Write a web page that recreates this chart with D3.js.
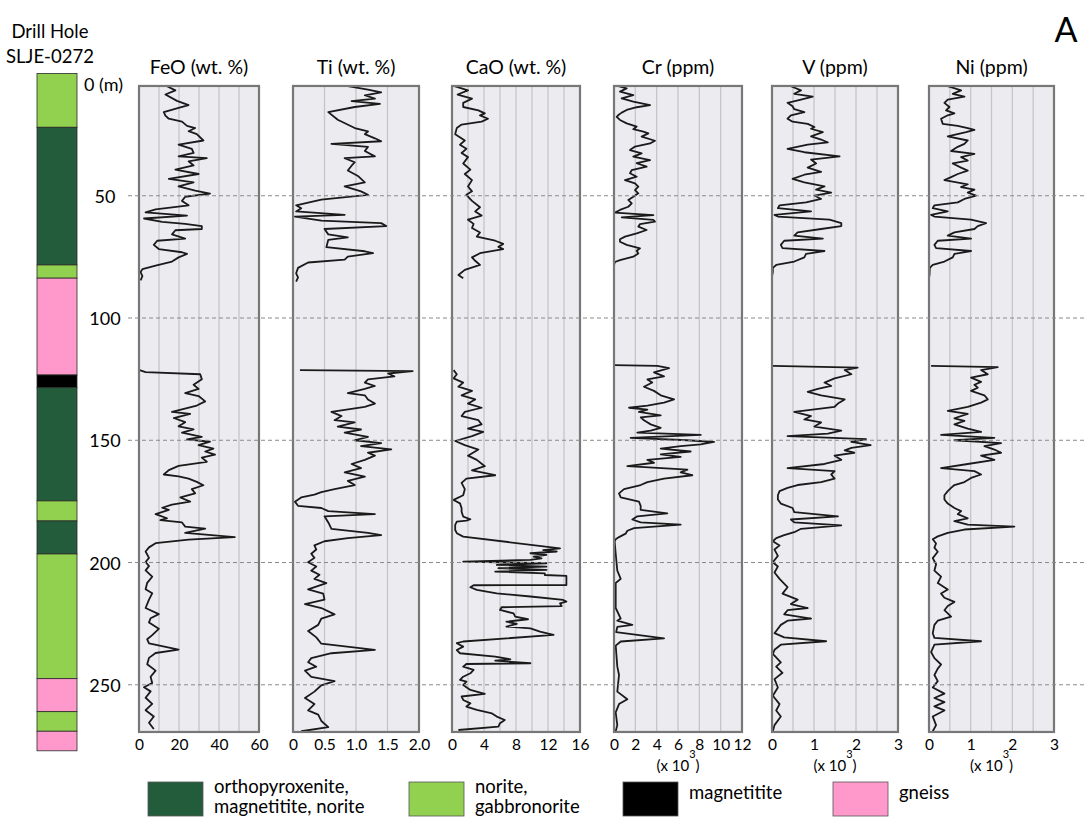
<!DOCTYPE html>
<html>
<head>
<meta charset="utf-8">
<script src="https://cdn.jsdelivr.net/npm/d3@7"></script>
<style>
  body { margin: 0; background: #fff; }
  text { font-family: Lato, "Open Sans", sans-serif; fill: #000; }
</style>
</head>
<body>
<svg id="chart" width="1088" height="823"></svg>
<script>
// ---- drill hole lithology (depth boundaries in m) ----
const strataDepths = [0, 22, 78.3, 83.7, 123.3, 128.5, 174.8, 183, 196.5, 247.5, 261, 269, 277];
const strataRock = ["norite", "opx", "norite", "gneiss", "magnetitite", "opx", "norite", "opx", "norite", "gneiss", "norite", "gneiss"];
const depthLabels = [0, 50, 100, 150, 200, 250];

// ---- FeO (wt. %) ----
const feoUpperDepth = [5.2,6.9,8.6,11.2,12.9,14.1,15.8,17.2,18.5,19.7,21.4,22.3,23.6,24.8,27.4,29.1,30.8,32.5,33.9,34.6,35.9,37.6,39.3,41.1,43.1,44.5,46.2,47.9,49.1,50.4,52.1,53.9,55.6,56.8,58.1,59.3,60.7,61.5,62.4,63.6,64.1,65.8,67.5,68.4,70.1,71.8,73.1,73.8,75.2,76.9,78.6,80.0,81.2,82.9,84.6];
const feoUpperValue = [14.0,18.2,13.2,19.0,24.8,19.8,12.4,13.2,14.9,21.5,24.0,28.1,24.8,28.9,32.2,19.8,26.4,27.3,19.8,33.9,24.8,27.3,18.2,29.8,14.9,27.3,19.8,28.1,35.5,23.1,21.5,24.8,8.3,3.3,24.0,2.5,11.6,23.1,31.4,31.4,18.2,16.5,23.1,9.1,7.4,9.9,21.5,24.0,19.8,16.5,8.3,1.7,0.8,1.7,0.8];
const feoLowerDepth = [121.3,122.1,123.0,125.0,127.3,129.0,130.7,131.9,134.1,135.8,138.4,139.2,140.9,142.6,144.3,145.5,146.9,148.6,149.6,150.6,152.0,153.4,154.6,155.9,157.1,158.8,160.5,162.2,164.0,164.8,165.7,167.0,168.4,170.0,171.7,173.4,175.1,176.3,177.6,178.5,180.2,181.9,182.7,183.6,185.3,186.1,187.9,189.6,190.6,192.1,193.8,195.5,198.1,199.8,201.5,203.2,205.8,208.3,210.9,212.6,215.2,218.6,221.1,222.8,224.5,227.1,229.7,231.4,233.1,235.6,237.0,239.0,241.6,244.2,246.7,249.3,251.0,252.7,255.3,257.8,260.4,263.0,265.5,268.1];
const feoLowerValue = [0.3,3.3,30.6,31.4,27.3,29.8,23.1,29.8,33.1,28.9,16.5,25.6,17.4,23.1,19.8,27.3,21.5,31.4,24.0,35.5,29.8,37.2,33.1,38.0,31.4,33.9,19.8,14.9,12.4,19.8,24.8,28.9,32.2,26.4,28.1,20.7,25.6,16.5,11.6,14.9,8.3,14.0,10.7,21.5,23.1,33.1,23.1,47.9,24.8,8.3,5.0,3.3,5.0,3.3,5.0,3.3,6.6,4.1,3.3,6.6,5.0,3.3,9.9,5.8,5.0,9.9,6.6,4.1,5.0,19.8,8.3,5.0,4.1,8.3,5.8,6.6,2.5,5.8,3.3,6.6,3.3,7.4,5.0,7.4];

// ---- Ti (wt. %) ----
const tiUpperDepth = [5.2,6.6,7.7,8.9,10.3,11.3,12.4,13.7,15.8,18.9,22.3,23.7,24.8,26.5,27.7,28.8,30.0,31.7,33.9,34.6,36.3,37.7,39.7,41.9,44.5,46.2,48.2,49.6,51.6,53.9,55.1,56.4,57.8,58.5,60.2,61.2,62.4,63.6,65.8,67.0,68.0,71.0,72.7,73.5,74.9,76.1,77.3,79.5,81.7,83.4,85.1];
const tiUpperValue = [0.87,1.19,1.40,1.14,1.30,0.93,1.38,0.98,0.56,0.71,0.98,1.19,1.14,1.30,1.40,0.61,1.19,1.14,1.30,0.82,0.98,0.93,0.87,1.03,1.14,0.82,1.08,1.19,0.45,0.05,0.13,0.05,0.82,0.03,0.45,1.40,1.48,0.50,0.56,0.87,0.56,0.53,1.14,1.27,0.87,0.82,0.24,0.08,0.05,0.08,0.05];
const tiLowerDepth = [121.3,121.7,122.7,123.9,125.1,126.4,127.8,129.0,130.7,131.6,133.3,135.0,136.3,138.4,140.1,141.8,142.7,144.4,145.6,146.9,148.6,150.0,151.2,152.4,153.7,155.1,156.3,158.0,159.7,161.4,163.1,164.9,166.6,168.3,170.0,171.2,172.2,173.4,175.1,176.8,177.7,179.0,180.2,181.1,183.6,186.2,187.9,188.8,190.0,191.3,193.0,194.7,196.4,198.1,199.9,201.6,203.3,205.0,206.7,208.4,211.0,212.7,215.2,217.0,218.6,221.2,222.9,225.5,228.0,230.6,233.2,235.7,237.1,239.1,240.8,242.6,244.2,246.8,248.5,250.2,252.8,255.4,257.9,260.5,262.2,264.8,267.3,269.0];
const tiLowerValue = [0.11,1.90,1.51,1.61,1.19,1.14,1.30,1.14,0.87,1.14,1.19,1.30,1.14,0.61,0.77,0.66,0.98,0.71,1.08,0.82,1.19,0.98,1.40,1.08,1.56,1.19,1.30,1.14,0.93,1.08,0.82,1.14,0.87,0.98,0.66,0.45,0.34,0.13,0.03,0.08,0.45,0.56,1.30,0.50,0.56,0.61,1.19,1.40,0.87,0.50,0.34,0.37,0.29,0.34,0.24,0.37,0.29,0.42,0.34,0.53,0.24,0.48,0.50,0.19,0.45,0.66,0.45,0.40,0.24,0.37,0.45,1.30,0.61,0.29,0.24,0.37,0.19,0.29,0.66,0.45,0.34,0.19,0.34,0.24,0.40,0.45,0.56,0.13];

// ---- CaO (wt. %) ----
const caoUpperDepth = [5.2,6.9,8.6,10.3,12.0,13.7,15.1,16.3,17.1,18.5,19.7,20.9,22.3,24.8,27.4,29.1,30.8,32.5,34.2,36.8,39.3,41.1,43.6,46.2,48.2,49.6,52.1,54.7,56.4,58.1,59.8,61.5,63.2,65.0,66.7,68.4,69.7,70.9,71.8,73.5,75.2,76.6,78.3,80.3,82.4,83.7];
const caoUpperValue = [0.3,2.0,0.7,2.5,1.4,1.4,3.3,4.1,3.5,4.5,3.7,1.2,0.6,0.4,1.6,1.0,1.8,1.2,2.0,1.4,2.3,1.6,2.5,2.0,2.5,1.8,2.5,3.5,2.9,3.7,2.0,2.7,2.5,3.5,3.1,5.4,6.4,5.8,6.4,3.5,2.5,2.9,3.5,1.6,0.8,1.4];
const caoLowerDepth = [121.3,123.0,124.7,126.4,128.1,129.8,131.6,133.3,135.0,136.7,138.4,140.1,141.8,143.5,145.2,146.6,148.3,150.3,152.0,153.8,156.3,158.0,160.6,162.3,164.3,165.7,167.4,170.0,172.5,
  174.4,175.8,177.8,179.2,181.2,182.3,182.9,183.3,184.6,186.7,188.0,189.4,194.2,194.9,195.5,196.2,196.9,197.6,198.3,198.9,199.6,200.3,201.0,201.7,202.3,203.0,203.7,204.4,205.1,205.5,209.2,209.3,210.1,211.2,212.6,213.9,215.3,216.0,216.7,217.8,218.3,219.4,220.8,222.1,223.2,224.2,225.1,226.2,226.9,228.3,229.6,232.3,233.0,234.4,235.8,237.1,238.5,239.6,240.1,241.2,241.5,242.6,243.9,245.3,246.7,248.0,248.7,250.1,252.1,253.7,254.8,256.2,257.6,258.9,260.3,261.7,263.0,264.4,265.7,267.1,268.5];
const caoLowerValue = [0.2,0.6,0.2,1.4,0.8,2.5,1.2,2.9,2.0,3.7,1.6,1.2,3.3,3.7,2.0,3.9,2.5,0.4,1.6,3.3,2.0,3.1,4.1,2.5,5.4,1.8,1.2,1.6,1.4,
  0.2,1.0,1.2,1.2,1.4,2.3,1.8,0.6,0.4,0.4,0.6,1.4,13.5,11.4,13.1,9.8,11.8,10.2,11.2,9.8,1.4,11.8,5.6,11.8,5.8,11.8,5.4,11.6,11.6,14.3,14.3,2.7,2.3,3.1,5.6,9.8,13.9,14.3,13.5,13.7,6.2,6.0,7.7,7.9,9.5,6.8,8.1,6.8,9.8,11.0,12.7,1.4,0.6,1.4,0.6,1.0,5.4,7.3,5.4,9.8,1.8,1.4,2.7,2.3,1.4,1.0,1.8,1.4,2.3,4.1,1.2,1.4,2.3,1.8,3.1,5.0,5.6,6.6,6.0,5.8,0.8];

// ---- Cr (ppm, x 10^3) ----
const crUpperDepth = [5.2,6.1,7.4,8.8,10.2,11.5,12.9,13.8,14.9,16.0,17.0,17.7,19.0,20.4,21.7,22.8,23.8,24.5,25.8,27.5,28.6,29.9,31.3,32.7,34.0,35.4,36.7,38.1,39.5,40.8,42.2,43.6,44.9,46.3,47.7,49.0,50.4,51.7,53.1,54.5,55.8,56.9,57.9,58.8,59.9,60.6,61.6,62.6,64.0,65.4,66.7,67.8,68.8,70.1,71.5,72.5,73.6,74.9,76.3,77.1,78.3,84.5];
const crUpperValue = [0.41,1.19,0.56,1.81,0.72,1.81,3.38,2.13,1.19,0.72,0.41,0.25,0.56,1.19,2.13,1.81,2.75,3.22,2.59,3.84,3.38,1.97,1.50,2.59,1.81,3.38,2.13,3.06,1.66,1.50,2.13,1.03,1.97,2.28,1.97,2.28,1.81,1.34,1.66,1.34,0.56,0.09,3.69,0.72,3.69,3.84,2.44,2.28,3.06,2.13,1.03,0.56,0.56,1.19,2.44,2.13,2.28,1.81,0.56,0.09,0.0,0.0];
const crLowerDepth = [119.3,119.6,120.5,122.2,123.9,125.1,126.4,128.1,129.8,131.6,133.3,134.6,135.8,136.7,137.5,138.4,139.8,140.6,141.8,143.5,144.9,146.1,146.9,147.8,149.0,150.0,150.7,151.7,152.4,153.4,154.6,155.8,156.8,158.0,159.2,160.6,162.0,163.1,164.3,165.7,167.1,168.3,170.0,171.7,173.4,175.1,176.8,178.5,179.9,181.1,182.4,183.6,184.5,185.9,187.0,188.2,189.6,190.5,191.3,196.4,203.3,206.7,208.4,218.6,222.9,223.8,225.5,226.3,228.5,231.0,232.3,234.0,242.6,246.0,252.8,255.9,257.9,261.3,266.5,269.0];
const crLowerValue = [0.0,4.06,5.16,3.75,4.69,3.13,3.59,2.81,3.75,4.38,5.63,4.69,3.13,1.41,3.13,2.34,4.38,2.5,2.81,3.44,4.38,3.44,2.19,8.13,1.56,6.88,9.38,8.13,6.25,4.38,7.19,4.38,6.25,3.13,3.75,1.25,6.88,6.25,7.34,4.69,3.13,2.5,0.94,0.47,0.63,2.34,2.5,2.5,5.0,2.19,1.72,2.5,6.25,1.88,1.25,1.09,0.47,0.16,0.06,0.16,0.31,0.63,0.16,0.16,0.63,0.31,1.72,0.31,0.2,4.69,0.63,0.16,0.31,0.47,0.31,1.25,0.47,0.16,0.31,0.16];

// ---- V (ppm, x 10^3) ----
const vUpperDepth = [5.2,6.9,8.3,9.5,10.7,12.0,13.4,14.6,15.8,17.1,18.5,19.7,20.6,21.9,22.6,24.0,25.7,27.0,28.2,29.1,30.8,32.2,33.9,35.2,36.8,38.5,40.2,41.4,43.1,44.5,46.2,47.5,48.7,49.9,51.3,52.7,53.9,55.1,56.4,57.8,58.5,59.8,61.2,62.4,63.6,65.0,66.3,67.5,68.4,70.1,71.4,72.6,73.8,75.2,76.9,78.3,79.5,81.2,82.9];
const vUpperValue = [0.45,0.69,0.53,0.97,0.69,0.37,0.49,0.53,0.77,0.45,0.37,0.49,0.85,1.01,0.93,1.21,0.93,1.17,1.33,0.85,0.37,0.77,1.61,0.93,1.05,0.85,1.17,0.77,0.49,0.77,1.25,1.05,1.41,1.01,1.17,0.81,0.18,0.14,0.93,0.06,0.14,1.37,1.65,1.65,1.17,0.61,0.53,1.21,0.29,0.21,0.25,1.25,0.81,0.77,0.53,0.10,0.02,0.02,0.0];
const vLowerDepth = [119.6,120.3,121.3,123.0,124.7,126.4,127.8,129.0,130.2,131.6,133.3,135.0,136.3,138.4,140.1,141.5,142.7,144.4,146.1,147.3,148.3,149.5,150.7,152.0,153.1,154.1,155.1,156.3,158.0,159.7,161.4,162.6,164.0,165.7,167.1,168.3,169.5,170.8,172.5,174.2,175.9,177.7,179.4,181.1,182.4,183.6,184.8,186.2,187.6,188.8,190.0,191.3,193.0,194.7,197.3,199.9,201.6,204.1,206.7,210.1,212.7,215.2,217.0,218.6,219.5,221.2,222.9,223.8,225.5,228.9,230.6,232.2,233.6,235.7,237.4,240.8,242.6,245.1,247.7,251.1,254.5,257.9,260.5,263.0,266.5,269.0];
const vLowerValue = [0.02,2.04,1.73,1.89,1.49,1.25,1.41,1.09,0.85,1.17,1.73,1.57,1.49,0.53,0.93,0.77,1.17,1.01,1.65,1.33,0.37,2.24,1.89,2.35,1.89,1.73,1.96,1.49,1.65,1.25,0.37,1.49,1.41,1.49,1.17,0.61,0.37,0.18,0.14,0.14,0.21,0.49,0.53,1.57,0.45,0.53,1.65,0.69,0.53,0.29,0.10,0.02,0.18,0.06,0.14,0.02,0.14,0.06,0.18,0.37,0.25,0.61,0.45,0.85,0.37,0.29,0.93,0.37,0.21,0.06,0.29,1.29,0.21,0.06,0.02,0.21,0.10,0.25,0.06,0.14,0.02,0.18,0.10,0.21,0.06,0.02];

// ---- Ni (ppm, x 10^3) ----
const niUpperDepth = [5.2,6.9,8.3,9.5,10.7,12.0,13.7,15.1,16.3,17.1,18.5,20.6,21.4,22.3,23.1,24.0,25.7,27.4,28.8,30.0,31.7,32.9,34.2,35.6,36.8,38.5,39.7,41.1,42.4,43.6,45.3,46.5,47.5,48.7,49.9,51.3,52.7,53.9,55.1,56.4,57.8,58.5,59.8,61.2,62.4,63.6,65.0,66.3,67.5,68.4,70.1,71.4,72.6,73.8,75.2,76.9,78.3,79.5,82.9];
const niUpperValue = [0.45,0.77,0.57,0.85,0.45,0.37,0.49,0.41,0.61,0.45,0.29,0.33,0.69,0.93,1.09,0.89,0.45,0.93,0.85,0.69,0.53,1.09,0.77,0.93,0.57,0.77,0.93,0.69,0.53,0.37,0.93,0.77,1.09,0.93,1.13,0.85,0.69,0.13,0.09,0.45,0.05,0.13,1.01,1.37,1.17,1.09,0.61,0.45,1.01,0.21,0.13,0.17,1.01,0.61,0.57,0.37,0.09,0.02,0.01];
const niLowerDepth = [119.6,120.1,121.3,123.0,124.4,126.1,127.3,128.5,129.8,131.6,133.3,134.6,136.3,138.0,139.2,141.0,142.1,143.5,145.2,146.6,147.8,149.0,150.0,151.2,152.4,153.8,155.1,156.3,158.0,159.7,161.4,162.6,164.0,165.4,167.1,168.3,169.5,170.8,172.5,174.2,175.9,177.7,179.0,180.2,181.9,183.1,184.5,185.3,186.5,187.9,189.3,190.5,192.2,193.9,195.6,198.2,200.7,203.3,205.8,208.4,211.0,212.7,214.4,216.1,217.8,219.5,222.1,223.8,225.5,228.9,230.8,232.2,233.6,236.6,239.1,241.7,243.4,246.0,248.5,251.1,253.6,255.4,257.1,258.8,260.5,263.0,266.5,269.0];
const niLowerValue = [0.05,1.65,1.25,1.41,1.01,1.25,1.09,1.17,1.01,1.33,1.41,1.25,0.93,0.45,0.93,0.61,0.85,0.61,0.93,1.25,0.29,1.57,0.61,1.73,1.33,1.57,1.73,1.25,1.57,0.93,0.29,1.09,1.25,1.01,0.85,0.61,0.53,0.45,0.37,0.37,0.45,0.61,0.77,0.69,0.93,0.61,0.93,2.05,0.85,0.45,0.21,0.09,0.17,0.13,0.21,0.09,0.17,0.13,0.29,0.21,0.45,0.29,0.37,0.61,0.45,0.37,0.53,0.21,0.13,0.09,0.13,1.25,0.13,0.05,0.13,0.29,0.21,0.13,0.21,0.09,0.37,0.13,0.37,0.13,0.37,0.09,0.17,0.09];

// ---- legend ----
const legendRocks = ["opx", "norite", "magnetitite", "gneiss"];
const legendText = [["orthopyroxenite,", "magnetitite, norite"], ["norite,", "gabbronorite"], ["magnetitite"], ["gneiss"]];

const rockColor = { opx: "#235c3b", norite: "#92d050", magnetitite: "#000000", gneiss: "#ff99cc" };

const svg = d3.select("#chart");

// depth scale shared by the strip log and all profiles
const y = d3.scaleLinear().domain([0, 277]).range([73.5, 750.8]);
const boxTop = 5.1, boxBottom = 269.3;

// title letter
svg.append("text").attr("x", 1066).attr("y", 42).attr("text-anchor", "middle")
    .attr("font-size", 34).text("A");

// drill hole heading
svg.append("text").attr("x", 50).attr("y", 38).attr("text-anchor", "middle")
    .attr("font-size", 18.5).text("Drill Hole");
svg.append("text").attr("x", 50).attr("y", 63).attr("text-anchor", "middle")
    .attr("font-size", 18.5).text("SLJE-0272");

// strip log
const strip = svg.append("g");
strip.selectAll("rect")
    .data(strataRock)
    .join("rect")
    .attr("x", 37)
    .attr("width", 40)
    .attr("y", (d, i) => y(strataDepths[i]))
    .attr("height", (d, i) => y(strataDepths[i + 1]) - y(strataDepths[i]))
    .attr("fill", d => rockColor[d])
    .attr("stroke", "#2a2a2a")
    .attr("stroke-width", 0.8);

// depth labels
svg.selectAll(".depth-label")
    .data(depthLabels)
    .join("text")
    .attr("class", "depth-label")
    .attr("x", d => d === 0 ? 84 : 105)
    .attr("y", d => d === 0 ? y(d) + 10 : y(d))
    .attr("text-anchor", d => d === 0 ? "start" : "middle")
    .attr("dominant-baseline", "central")
    .attr("font-size", 18)
    .text(d => d === 0 ? "0 (m)" : d);

// profile panels
const panels = [
    { title: "FeO (wt. %)", left: 139, right: 259, max: 60, step: 10, ticks: [0, 20, 40, 60],
      segs: [[feoUpperDepth, feoUpperValue], [feoLowerDepth, feoLowerValue]] },
    { title: "Ti (wt. %)", left: 293, right: 419, max: 2, step: 0.5, ticks: [0, 0.5, 1, 1.5, 2],
      fmt: d => d === 0 ? "0" : d3.format(".1f")(d),
      segs: [[tiUpperDepth, tiUpperValue], [tiLowerDepth, tiLowerValue]] },
    { title: "CaO (wt. %)", left: 452, right: 580, max: 16, step: 2, ticks: [0, 4, 8, 12, 16],
      segs: [[caoUpperDepth, caoUpperValue], [caoLowerDepth, caoLowerValue]] },
    { title: "Cr (ppm)", left: 614, right: 742, max: 12, step: 2, ticks: [0, 2, 4, 6, 8, 10, 12], scaled: true,
      segs: [[crUpperDepth, crUpperValue], [crLowerDepth, crLowerValue]] },
    { title: "V (ppm)", left: 772, right: 898, max: 3, step: 0.5, ticks: [0, 1, 2, 3], scaled: true,
      segs: [[vUpperDepth, vUpperValue], [vLowerDepth, vLowerValue]] },
    { title: "Ni (ppm)", left: 929, right: 1054, max: 3, step: 0.5, ticks: [0, 1, 2, 3], scaled: true,
      segs: [[niUpperDepth, niUpperValue], [niLowerDepth, niLowerValue]] }
];

panels.forEach(p => {
    const x = d3.scaleLinear().domain([0, p.max]).range([p.left, p.right]);
    const g = svg.append("g");

    // background
    g.append("rect")
        .attr("x", x(0)).attr("y", y(boxTop))
        .attr("width", x(p.max) - x(0)).attr("height", y(boxBottom) - y(boxTop))
        .attr("fill", "#ececf0");

    // vertical gridlines
    g.selectAll(".grid")
        .data(d3.range(p.step, p.max - p.step / 2, p.step))
        .join("line")
        .attr("x1", d => x(d)).attr("x2", d => x(d))
        .attr("y1", y(boxTop)).attr("y2", y(boxBottom))
        .attr("stroke", "#c6c6c8").attr("stroke-width", 1.3);

    // header
    svg.append("text")
        .attr("x", (p.left + p.right) / 2).attr("y", 74)
        .attr("text-anchor", "middle").attr("font-size", 19.5)
        .text(p.title);

    // profile lines
    const line = d3.line().x(d => x(d[1])).y(d => y(d[0]));
    p.segs.forEach(([depths, values]) => {
        g.append("path")
            .datum(d3.zip(depths, values))
            .attr("fill", "none")
            .attr("stroke", "#1a1a1a")
            .attr("stroke-width", 1.8)
            .attr("stroke-linejoin", "round")
            .attr("d", line);
    });

    // frame
    g.append("rect")
        .attr("x", x(0)).attr("y", y(boxTop))
        .attr("width", x(p.max) - x(0)).attr("height", y(boxBottom) - y(boxTop))
        .attr("fill", "none").attr("stroke", "#777").attr("stroke-width", 2.2);

    // bottom axis labels
    const axis = svg.append("g")
        .attr("transform", `translate(0,${y(boxBottom)})`)
        .call(d3.axisBottom(x).tickValues(p.ticks).tickSize(0).tickPadding(7)
            .tickFormat(p.fmt || (d => d)));
    axis.select(".domain").remove();
    axis.selectAll("text")
        .attr("font-size", 15.5)
        .attr("font-family", "Lato, 'Open Sans', sans-serif")
        .attr("fill", "#000");

    if (p.scaled) {
        const t = svg.append("text")
            .attr("x", (p.left + p.right) / 2).attr("y", 771)
            .attr("text-anchor", "middle").attr("font-size", 15);
        t.append("tspan").text("(x 10");
        t.append("tspan").attr("dy", -13).attr("font-size", 11).text("3");
        t.append("tspan").attr("dy", 13).text(")");
    }
});

// dashed depth markers across all panels
svg.selectAll(".depth-line")
    .data(depthLabels.filter(d => d > 0))
    .join("line")
    .attr("class", "depth-line")
    .attr("x1", 128).attr("x2", 1086)
    .attr("y1", d => y(d)).attr("y2", d => y(d))
    .attr("stroke", "#8a8a8a")
    .attr("stroke-width", 1)
    .attr("stroke-dasharray", "4,3");

// legend
const legendBoxX = [148, 409, 623, 833];
const legend = svg.append("g");
legendRocks.forEach((r, i) => {
    legend.append("rect")
        .attr("x", legendBoxX[i]).attr("y", 782)
        .attr("width", 55).attr("height", 34)
        .attr("fill", rockColor[r])
        .attr("stroke", "#555").attr("stroke-width", 0.8);
    const lines = legendText[i];
    const t = legend.append("text")
        .attr("x", legendBoxX[i] + 66)
        .attr("font-size", 18.5);
    lines.forEach((s, j) => {
        t.append("tspan")
            .attr("x", legendBoxX[i] + 66)
            .attr("y", lines.length === 1 ? 799 : 793 + j * 20)
            .text(s);
    });
});
</script>
</body>
</html>
